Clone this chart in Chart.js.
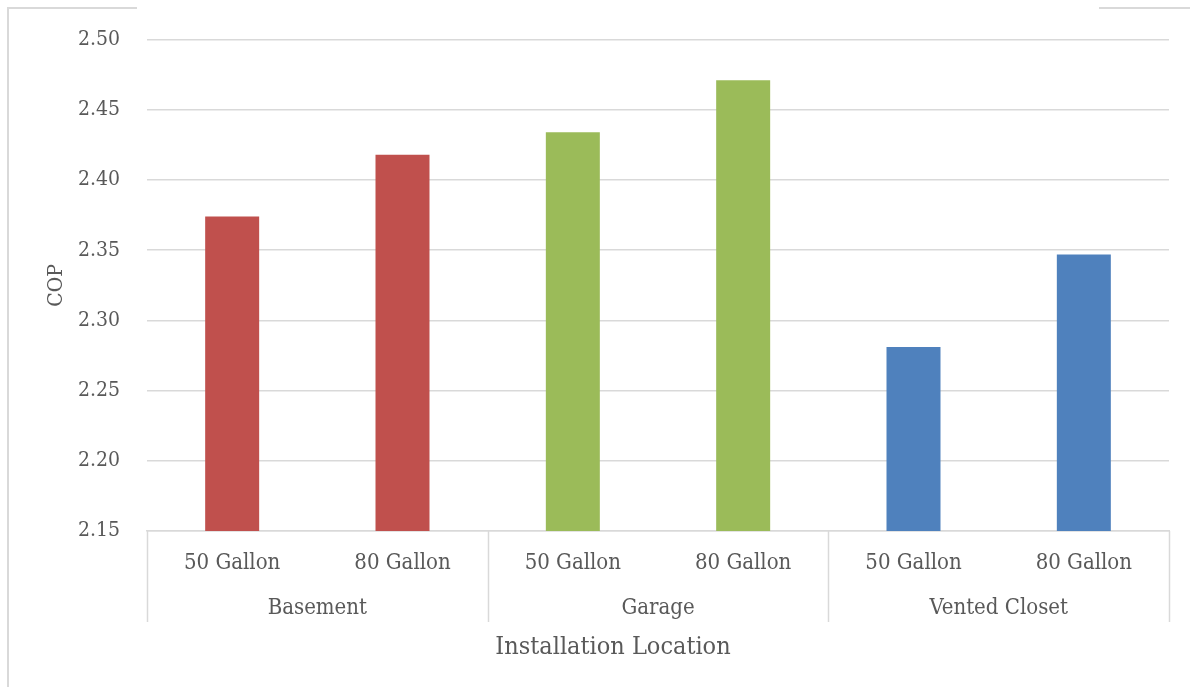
<!DOCTYPE html>
<html>
<head>
<meta charset="utf-8">
<script src="https://cdn.jsdelivr.net/npm/chart.js@4.4.1/dist/chart.umd.min.js"></script>
<style>
  html, body { margin: 0; padding: 0; background: #ffffff; }
  #wrap { width: 1190px; height: 687px; position: relative; }
</style>
</head>
<body>
<div id="wrap"><canvas id="c" width="1190" height="687"></canvas></div>
<script>
// Tank sizes (inner axis level) and installation locations (outer level)
const tankSizes = ['50 Gallon', '80 Gallon', '50 Gallon', '80 Gallon', '50 Gallon', '80 Gallon'];
const locations = ['Basement', 'Garage', 'Vented Closet'];
// Coefficient of performance per location / tank size
const copValues = [2.374, 2.418, 2.434, 2.471, 2.281, 2.347];
// COP axis range and step
const yMin = 2.15;
const yMax = 2.50;
const yStep = 0.05;
const xAxisTitle = 'Installation Location';

const locationColors = ['#C0504D', '#9BBB59', '#4F81BD'];
const textColor = '#595959';
const lineColor = '#d9d9d9';
const fontFamily = '"DejaVu Serif Condensed", "DejaVu Serif", "Liberation Serif", serif';

// Outer frame, separators between location groups and the horizontal axis title
const framePlugin = {
  id: 'frame',
  beforeDraw(chart) {
    const ctx = chart.ctx;
    ctx.save();
    ctx.fillStyle = '#ffffff';
    ctx.fillRect(0, 0, chart.width, chart.height);
    ctx.strokeStyle = lineColor;
    ctx.lineWidth = 2;
    ctx.beginPath();
    ctx.moveTo(8, chart.height);
    ctx.lineTo(8, 8);
    ctx.lineTo(137, 8);
    ctx.moveTo(1099, 8);
    ctx.lineTo(chart.width, 8);
    ctx.stroke();
    ctx.restore();
  },
  afterDraw(chart) {
    const ctx = chart.ctx;
    const x = chart.scales.x;
    const x2 = chart.scales.x2;
    const top = chart.chartArea.bottom;
    const bottom = x2.top + 49;
    ctx.save();
    ctx.strokeStyle = lineColor;
    ctx.lineWidth = 1.5;
    ctx.beginPath();
    for (let g = 0; g <= locations.length; g++) {
      const px = Math.round(x.left + (x.right - x.left) * g / locations.length) + 0.5;
      ctx.moveTo(px, top);
      ctx.lineTo(px, bottom);
    }
    ctx.stroke();

    ctx.fillStyle = textColor;
    ctx.font = '25px ' + fontFamily;
    ctx.textAlign = 'center';
    ctx.textBaseline = 'middle';
    ctx.fillText(xAxisTitle, 613, x2.bottom - 40);
    ctx.restore();
  }
};

new Chart(document.getElementById('c'), {
  type: 'bar',
  data: {
    labels: tankSizes,
    datasets: [{
      label: 'COP',
      data: copValues,
      backgroundColor: copValues.map((v, i) => locationColors[Math.floor(i / 2)]),
      borderWidth: 0,
      barPercentage: 0.317,
      categoryPercentage: 1.0
    }]
  },
  options: {
    responsive: false,
    animation: false,
    devicePixelRatio: 1,
    layout: { padding: { top: 38, right: 21, left: 0, bottom: 0 } },
    plugins: {
      legend: { display: false },
      title: { display: false },
      tooltip: { enabled: false }
    },
    scales: {
      y: {
        min: yMin,
        max: yMax,
        ticks: {
          stepSize: yStep,
          padding: 27,
          color: textColor,
          font: { family: fontFamily, size: 21 },
          callback: v => Number(v).toFixed(2)
        },
        grid: { color: lineColor, lineWidth: 1.5, drawTicks: false },
        border: { display: false },
        title: {
          display: true,
          text: 'COP',
          color: textColor,
          font: { family: fontFamily, size: 21 },
          padding: { top: 44, bottom: 0 }
        },
        afterFit(scale) { scale.width = 147; }
      },
      x: {
        type: 'category',
        position: 'bottom',
        grid: { display: false },
        border: { display: true, color: lineColor, width: 1.5 },
        ticks: {
          padding: 11,
          color: textColor,
          font: { family: fontFamily, size: 22 },
          maxRotation: 0,
          autoSkip: false
        },
        afterFit(scale) { scale.height = 42; }
      },
      x2: {
        type: 'category',
        position: 'bottom',
        labels: locations,
        offset: true,
        grid: { display: false },
        border: { display: false },
        ticks: {
          padding: 14,
          color: textColor,
          font: { family: fontFamily, size: 22 },
          maxRotation: 0,
          autoSkip: false
        },
        afterFit(scale) { scale.height = 114; }
      }
    }
  },
  plugins: [framePlugin]
});
</script>
</body>
</html>
